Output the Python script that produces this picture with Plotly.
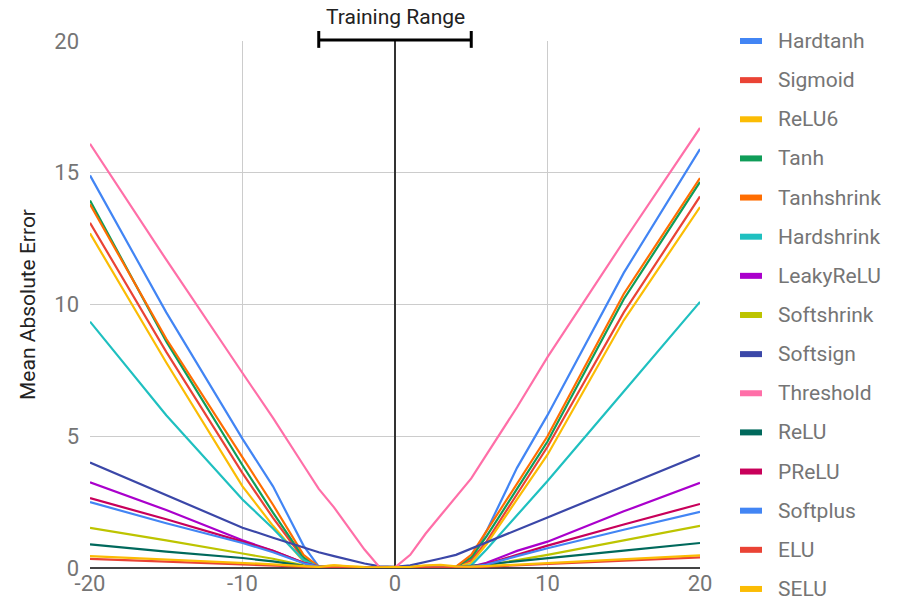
import plotly.graph_objects as go

# x positions where the error was measured
x_vals = [-20, -15, -10, -8, -6, -5, -4, -3, -2, -1, 0, 1, 2, 3, 4, 5, 6, 8, 10, 15, 20]

hardtanh = [14.9, 9.7, 4.9, 3.1, 0.85, 0.05, 0.03, 0.02, 0.02, 0.02, 0.02, 0.02, 0.02, 0.02, 0.03, 0.3, 1.4, 3.8, 5.8, 11.2, 15.9]
sigmoid = [13.1, 8.2, 3.6, 1.9, 0.35, 0.05, 0.03, 0.03, 0.03, 0.03, 0.03, 0.03, 0.03, 0.03, 0.03, 0.3, 1.0, 2.8, 4.6, 9.7, 14.1]
relu6 = [12.7, 7.8, 3.1, 1.6, 0.25, 0.05, 0.1, 0.05, 0.03, 0.03, 0.03, 0.03, 0.05, 0.06, 0.04, 0.2, 0.9, 2.6, 4.3, 9.4, 13.7]
tanh = [13.95, 8.6, 3.9, 2.1, 0.4, 0.05, 0.03, 0.03, 0.03, 0.03, 0.03, 0.03, 0.03, 0.03, 0.04, 0.4, 1.2, 3.0, 4.8, 10.2, 14.65]
tanhshrink = [13.8, 8.7, 4.2, 2.4, 0.5, 0.05, 0.03, 0.02, 0.02, 0.02, 0.02, 0.02, 0.02, 0.02, 0.05, 0.5, 1.4, 3.2, 5.0, 10.4, 14.8]
hardshrink = [9.35, 5.8, 2.6, 1.5, 0.3, 0.05, 0.03, 0.02, 0.02, 0.02, 0.02, 0.02, 0.02, 0.02, 0.03, 0.1, 0.7, 2.0, 3.3, 6.7, 10.1]
leakyrelu = [3.25, 2.2, 1.05, 0.65, 0.2, 0.05, 0.03, 0.02, 0.02, 0.02, 0.02, 0.02, 0.02, 0.02, 0.03, 0.05, 0.2, 0.65, 1.0, 2.15, 3.23]
softshrink = [1.52, 1.05, 0.55, 0.35, 0.1, 0.03, 0.02, 0.02, 0.02, 0.02, 0.02, 0.02, 0.02, 0.02, 0.02, 0.03, 0.1, 0.3, 0.5, 1.05, 1.6]
softsign = [4.0, 2.77, 1.53, 1.15, 0.77, 0.6, 0.45, 0.3, 0.17, 0.06, 0.04, 0.1, 0.22, 0.36, 0.5, 0.74, 0.98, 1.45, 1.92, 3.1, 4.29]
threshold = [16.1, 11.7, 7.4, 5.7, 3.9, 3.0, 2.3, 1.5, 0.7, 0.02, 0.02, 0.5, 1.3, 2.0, 2.7, 3.4, 4.3, 6.1, 8.0, 12.4, 16.7]
relu = [0.9, 0.62, 0.38, 0.25, 0.08, 0.03, 0.02, 0.02, 0.02, 0.02, 0.02, 0.02, 0.02, 0.02, 0.03, 0.08, 0.14, 0.26, 0.38, 0.66, 0.95]
prelu = [2.65, 1.85, 1.0, 0.65, 0.2, 0.05, 0.03, 0.02, 0.02, 0.02, 0.02, 0.02, 0.02, 0.02, 0.03, 0.05, 0.15, 0.5, 0.85, 1.65, 2.43]
softplus = [2.5, 1.7, 0.95, 0.6, 0.18, 0.05, 0.03, 0.02, 0.02, 0.02, 0.02, 0.02, 0.02, 0.02, 0.03, 0.05, 0.13, 0.45, 0.75, 1.45, 2.13]
elu = [0.35, 0.25, 0.15, 0.1, 0.05, 0.02, 0.02, 0.02, 0.02, 0.02, 0.02, 0.02, 0.02, 0.02, 0.02, 0.03, 0.05, 0.1, 0.15, 0.28, 0.4]
selu = [0.45, 0.33, 0.2, 0.14, 0.07, 0.04, 0.1, 0.06, 0.03, 0.02, 0.02, 0.04, 0.1, 0.12, 0.06, 0.05, 0.07, 0.13, 0.19, 0.33, 0.48]

names = ['Hardtanh', 'Sigmoid', 'ReLU6', 'Tanh', 'Tanhshrink', 'Hardshrink', 'LeakyReLU',
         'Softshrink', 'Softsign', 'Threshold', 'ReLU', 'PReLU', 'Softplus', 'ELU', 'SELU']
series = [hardtanh, sigmoid, relu6, tanh, tanhshrink, hardshrink, leakyrelu,
          softshrink, softsign, threshold, relu, prelu, softplus, elu, selu]
colors = ['#4285F4', '#EA4335', '#FBBC04', '#0F9D58', '#FF6D01', '#1FC0C0', '#AA00CC',
          '#BDC400', '#3B47A8', '#FF6FA8', '#00695C', '#C8005A', '#4285F4', '#EA4335', '#FBBC04']

x_ticks = [-20, -10, 0, 10, 20]
x_ticktext = ['-20', '-10', '0', '10', '20']
y_ticks = [0, 5, 10, 15, 20]
training_range = [-5, 5]

FONT = 'Roboto'
GREY = '#757575'

fig = go.Figure()

# the curves
for name, ys, col in zip(names, series, colors):
    fig.add_trace(go.Scatter(
        x=x_vals, y=ys, name=name, mode='lines',
        line=dict(color=col, width=2.2),
        showlegend=False
    ))

# hand-made legend on the right (plotly's own one scrolls at this size)
row_gap = 39.14 / 527   # legend row spacing in paper units
for i, (name, col) in enumerate(zip(names, colors)):
    yy = 1 - i * row_gap
    fig.add_shape(type='line', xref='paper', yref='paper',
                  x0=1.0656, x1=1.1016, y0=yy, y1=yy,
                  line=dict(color=col, width=6))
    fig.add_annotation(text=name, xref='paper', yref='paper', x=1.1246, y=yy,
                       xanchor='left', yanchor='middle', showarrow=False,
                       font=dict(family=FONT, size=21, color=GREY))

# training range bracket
lo, hi = training_range
fig.add_shape(type='line', xref='x', yref='paper', x0=lo, x1=hi, y0=1.002, y1=1.002,
              line=dict(color='black', width=3))
for xb in training_range:
    fig.add_shape(type='line', xref='x', yref='paper', x0=xb, x1=xb, y0=0.987, y1=1.019,
                  line=dict(color='black', width=3))
fig.add_annotation(text='Training Range', xref='x', yref='paper',
                   x=(lo + hi) / 2, y=1.046, yanchor='middle', showarrow=False,
                   font=dict(family=FONT, size=21, color='#222222'))

fig.update_layout(
    width=890, height=600,
    margin=dict(l=82, r=198, t=33, b=40),
    paper_bgcolor='white', plot_bgcolor='white',
    font=dict(family=FONT, size=21, color=GREY),
    showlegend=False,
    xaxis=dict(
        range=[-20, 20], tickvals=x_ticks, ticktext=x_ticktext,
        showgrid=True, gridcolor='#CCCCCC', gridwidth=1,
        zeroline=True, zerolinecolor='#333333', zerolinewidth=1.5,
        showline=False, ticks='',
        tickfont=dict(family=FONT, size=22, color=GREY)
    ),
    yaxis=dict(
        range=[0, 20], tickvals=y_ticks,
        showgrid=True, gridcolor='#CCCCCC', gridwidth=1,
        zeroline=True, zerolinecolor='#444444', zerolinewidth=2,
        showline=False, ticks='', ticklabelstandoff=10,
        title=dict(text='Mean Absolute Error', font=dict(family=FONT, size=21, color='#222222'),
                   standoff=12),
        tickfont=dict(family=FONT, size=22, color=GREY)
    ),
)

fig.write_html('out.html')
